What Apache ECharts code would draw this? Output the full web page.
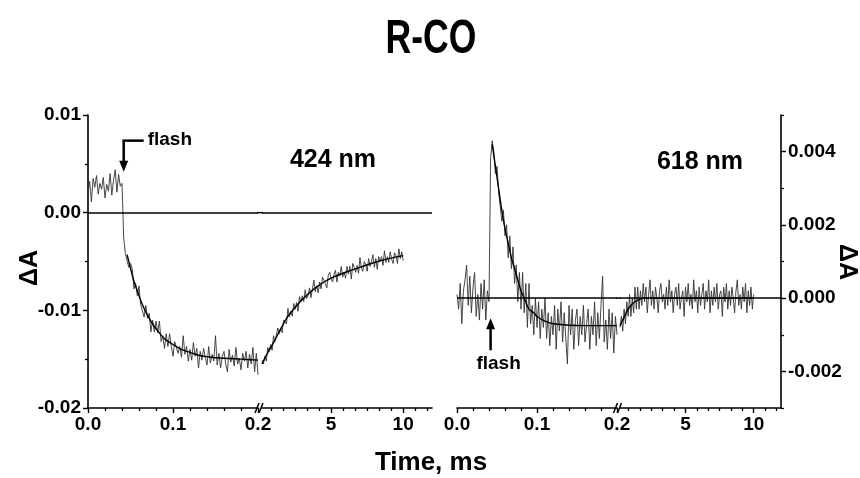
<!DOCTYPE html>
<html><head><meta charset="utf-8">
<script src="https://cdn.jsdelivr.net/npm/echarts@6/dist/echarts.min.js"></script>
<style>html,body{margin:0;padding:0;background:#fff}#c{width:860px;height:478px}</style>
</head><body><div id="c"></div>
<script>
const FONT = "'Liberation Sans', Arial, sans-serif";

// ---------- 424 nm panel ----------
const t424FastStart = 0, t424FastStep = 0.002;   // sampling grid, 0 .. 0.2 ms
const a424Fast = [
  0.0020, 0.0032, 0.0011, 0.0035, 0.0026, 0.0038, 0.0019, 0.0030, 0.0024, 0.0036,
  0.0015, 0.0029, 0.0022, 0.0040, 0.0018, 0.0033, 0.0044, 0.0021, 0.0039, 0.0027,
  0.0030,
  -0.0026, -0.0042, -0.0040, -0.0056, -0.0052,
  -0.0057, -0.0078, -0.0072, -0.0085, -0.0075, -0.0094, -0.0092, -0.0107, -0.0095, -0.0108,
  -0.0103, -0.0122, -0.0110, -0.0122, -0.0111, -0.0123, -0.0111, -0.0132, -0.0126, -0.0139,
  -0.0124, -0.0137, -0.0124, -0.0137, -0.0147, -0.0132, -0.0130, -0.0144, -0.0137, -0.0148,
  -0.0126, -0.0145, -0.0137, -0.0152, -0.0140, -0.0151, -0.0133, -0.0147, -0.0139, -0.0159,
  -0.0142, -0.0151, -0.0139, -0.0148, -0.0156, -0.0137, -0.0154, -0.0145, -0.0152, -0.0126,
  -0.0156, -0.0144, -0.0159, -0.0147, -0.0142, -0.0155, -0.0163, -0.0140, -0.0153, -0.0146,
  -0.0157, -0.0138, -0.0155, -0.0149, -0.0161, -0.0144, -0.0152, -0.0142, -0.0159, -0.0145,
  -0.0155, -0.0138, -0.0163, -0.0144, -0.0166
];
const t424SlowStart = 0.2, t424SlowStep = 0.1;    // sampling grid, 0.2 .. 10 ms
const a424Slow = [
  -0.0151, -0.0155, -0.0147, -0.0152, -0.0138, -0.0142, -0.0135, -0.0141, -0.0126, -0.0132,
  -0.0131, -0.0118, -0.0124, -0.0118, -0.0123, -0.0110, -0.0109, -0.0114, -0.0098, -0.0107,
  -0.0101, -0.0106, -0.0093, -0.0099, -0.0092, -0.0101, -0.0086, -0.0091, -0.0085, -0.0091,
  -0.0079, -0.0088, -0.0085, -0.0077, -0.0087, -0.0078, -0.0069, -0.0081, -0.0075, -0.0082,
  -0.0071, -0.0078, -0.0066, -0.0069, -0.0073, -0.0077, -0.0064, -0.0061, -0.0068, -0.0071,
  -0.0063, -0.0059, -0.0071, -0.0061, -0.0065, -0.0055, -0.0066, -0.0061, -0.0067, -0.0055,
  -0.0063, -0.0055, -0.0068, -0.0052, -0.0056, -0.0061, -0.0054, -0.0062, -0.0046, -0.0057,
  -0.0060, -0.0050, -0.0053, -0.0060, -0.0047, -0.0055, -0.0050, -0.0043, -0.0056, -0.0047,
  -0.0058, -0.0045, -0.0050, -0.0045, -0.0054, -0.0039, -0.0051, -0.0045, -0.0051, -0.0040,
  -0.0048, -0.0052, -0.0041, -0.0044, -0.0052, -0.0037, -0.0047, -0.0040, -0.0049
];
const fit424FastT = [0.046, 0.048, 0.050, 0.054, 0.058, 0.062, 0.066, 0.070, 0.076, 0.082, 0.090, 0.100, 0.110, 0.120, 0.130, 0.145, 0.160, 0.180, 0.200];
const fit424FastV = [-0.0043, -0.0050, -0.0057, -0.0070, -0.0080, -0.0090, -0.0098, -0.0105, -0.0114, -0.0121, -0.0129, -0.0135, -0.0140, -0.0143, -0.0146, -0.0148, -0.0149, -0.0150, -0.0151];
const fit424SlowT = [0.2, 0.5, 1, 1.5, 2, 2.5, 3, 3.5, 4, 4.5, 5, 6, 7, 8, 9, 10];
const fit424SlowV = [-0.0155, -0.0146, -0.0133, -0.0119, -0.0106, -0.0097, -0.0089, -0.0082, -0.0076, -0.0071, -0.0067, -0.0061, -0.0056, -0.0051, -0.0047, -0.0044];

// ---------- 618 nm panel ----------
const t618FastStart = 0, t618FastStep = 0.002;
const a618Fast = [
  0.0001, -0.0003, 0.0004, -0.0007, 0.0002, 0.0005, 0.0009, -0.0002, 0.0006, -0.0004,
  0.0003, 0.0007, -0.0005, 0.0001, -0.0006, 0.0004, -0.0003, 0.0005, -0.0006, 0.0002,
  -0.0001,
  0.0038, 0.0043,
  0.0040, 0.0034, 0.0036, 0.0029, 0.0029, 0.0021, 0.0024, 0.0017, 0.0020, 0.0011,
  0.0017, 0.0008, 0.0014, 0.0004, 0.0009, -0.0001, 0.0007, -0.0003, 0.0007, -0.0004,
  0.0004, -0.0008, 0.0004, -0.0007, -0.0002, -0.0010, 0.0000, -0.0008, -0.0001, -0.0011,
  -0.0003, -0.0008, 0.0000, -0.0011, -0.0004, -0.0013, -0.0005, -0.0010, -0.0002, -0.0014,
  -0.0003, -0.0009, -0.0001, -0.0012, -0.0004, -0.0011, -0.0018, -0.0002, -0.0010, -0.0003,
  -0.0014, -0.0006, -0.0003, -0.0013, -0.0005, -0.0010, -0.0002, -0.0012, -0.0007, -0.0003,
  -0.0014, -0.0005, -0.0010, -0.0001, -0.0013, -0.0004, -0.0011, -0.0002, 0.0006, -0.0012,
  -0.0006, -0.0014, -0.0003, -0.0011, -0.0004, -0.0015, -0.0005, -0.0010
];
const t618SlowStart = 0.2, t618SlowStep = 0.1;
const a618Slow = [
  -0.0008, -0.0005, -0.0009, -0.0003, -0.0007, -0.0001, -0.0005, 0.0001, -0.0005, 0.0000,
  -0.0004, 0.0003, -0.0003, 0.0003, -0.0003,
  0.0002, -0.0002, 0.0004, -0.0001, 0.0003, -0.0004, 0.0001, 0.0005, -0.0002, 0.0002,
  -0.0003, 0.0003, 0.0000, -0.0004, 0.0002, 0.0004, -0.0001, 0.0001, -0.0003, 0.0003,
  -0.0002, 0.0005, -0.0001, 0.0002, -0.0004, 0.0001, 0.0003, -0.0002, 0.0004, -0.0003,
  0.0000, 0.0002, -0.0005, 0.0003, -0.0001, 0.0004, -0.0002, 0.0001, -0.0003, 0.0005,
  -0.0001, 0.0002, -0.0004, 0.0003, -0.0002, 0.0001, 0.0004, -0.0003, 0.0002, -0.0001,
  0.0005, -0.0004, 0.0002, -0.0002, 0.0003, -0.0001, 0.0004, -0.0003, 0.0001, 0.0002,
  -0.0005, 0.0003, -0.0001, 0.0004, -0.0003, 0.0002, -0.0002, 0.0003, 0.0000, -0.0004,
  0.0002, 0.0005, -0.0002, 0.0001, -0.0003, 0.0003, -0.0001, 0.0004, -0.0004, 0.0002,
  -0.0002, 0.0003, -0.0003, 0.0001
];
const fit618FastT = [0.044, 0.048, 0.052, 0.056, 0.060, 0.064, 0.068, 0.072, 0.076, 0.080, 0.084, 0.090, 0.096, 0.100, 0.110, 0.120, 0.130, 0.140, 0.160, 0.200];
const fit618FastV = [0.0042, 0.0036, 0.0030, 0.0024, 0.0019, 0.0015, 0.0011, 0.0008, 0.0005, 0.0002, 0.0000, -0.0003, -0.0004, -0.0005, -0.00063, -0.0007, -0.00072, -0.00074, -0.00075, -0.00075];
const fit618SlowT = [0.2, 0.4, 0.6, 0.8, 1.0, 1.3, 1.6, 2.0, 4, 6, 8, 10];
const fit618SlowV = [-0.00075, -0.0006, -0.00045, -0.0003, -0.0002, -0.0001, -0.00004, 0, 0, 0, 0, 0];

// ---------- axes / ticks ----------
const fastRange = [0, 0.2];
const slowRange = [0.2, 12];
const slowMajorTicks = [5, 10];
const slowMinorTicks = [0.833, 1.667, 2.5, 3.333, 4.167, 5.833, 6.667, 7.5, 8.333, 9.167, 10.833, 11.667];
const y424Range = [-0.02, 0.01];
const y618Range = [-0.003, 0.005];
const y618Major = [-0.002, 0, 0.002, 0.004];
const y618Minor = [-0.003, -0.001, 0.001, 0.003, 0.005];
const flashTime = 0.042;

const toPairs = (start, step, arr) => arr.map((v, i) => [+(start + i * step).toFixed(4), v]);
const zip = (t, v) => t.map((x, i) => [x, v[i]]);

const lbl = {fontFamily: FONT, fontWeight: 'bold', fontSize: 19, color: '#000'};
const axLine = {show: true, onZero: false, lineStyle: {color: '#000', width: 1.6}};

function fastX(grid) {
  return {type: 'value', gridIndex: grid, min: fastRange[0], max: fastRange[1], interval: 0.1,
    position: 'bottom', axisLine: axLine,
    axisTick: {show: true, length: 5, lineStyle: {color: '#000', width: 1.4}},
    minorTick: {show: true, splitNumber: 5, length: 3, lineStyle: {color: '#000', width: 1.3}},
    axisLabel: Object.assign({margin: 7, showMaxLabel: true, showMinLabel: true, formatter: v => v.toFixed(1)}, lbl),
    splitLine: {show: false}, minorSplitLine: {show: false}};
}
function slowX(grid) {
  return {type: 'value', gridIndex: grid, min: slowRange[0], max: slowRange[1], position: 'bottom',
    axisLine: axLine,
    axisTick: {show: true, length: 5, customValues: slowMajorTicks, lineStyle: {color: '#000', width: 1.4}},
    axisLabel: Object.assign({margin: 7, customValues: slowMajorTicks, formatter: v => String(v)}, lbl),
    splitLine: {show: false}};
}
function slowMinorX(grid) {
  return {type: 'value', gridIndex: grid, min: slowRange[0], max: slowRange[1], position: 'bottom', offset: 0,
    axisLine: {show: false, onZero: false},
    axisTick: {show: true, length: 3, customValues: slowMinorTicks, lineStyle: {color: '#000', width: 1.3}},
    axisLabel: {show: false}, splitLine: {show: false}};
}

const zeroLine = {silent: true, symbol: 'none', label: {show: false},
  lineStyle: {color: '#000', width: 1.5, type: 'solid'}, data: [{yAxis: 0}], animation: false};
const traceStyle = {color: '#333', width: 0.9};
const fitStyle = {color: '#000', width: 1.4};

const option = {
  animation: false,
  backgroundColor: '#fff',
  grid: [
    {left: 88, top: 115, width: 170, height: 293},
    {left: 262, top: 115, width: 170, height: 293},
    {left: 457, top: 115, width: 160, height: 293},
    {left: 620, top: 115, width: 161, height: 293}
  ],
  xAxis: [fastX(0), slowX(1), slowMinorX(1), fastX(2), slowX(3), slowMinorX(3)],
  yAxis: [
    {type: 'value', gridIndex: 0, min: y424Range[0], max: y424Range[1], interval: 0.01, position: 'left',
      axisLine: axLine,
      axisTick: {show: true, length: 5, lineStyle: {color: '#000', width: 1.4}},
      minorTick: {show: true, splitNumber: 2, length: 3, lineStyle: {color: '#000', width: 1.3}},
      axisLabel: Object.assign({margin: 7, formatter: v => v.toFixed(2)}, lbl),
      splitLine: {show: false}, minorSplitLine: {show: false}},
    {type: 'value', gridIndex: 1, min: y424Range[0], max: y424Range[1], show: false},
    {type: 'value', gridIndex: 2, min: y618Range[0], max: y618Range[1], show: false},
    {type: 'value', gridIndex: 3, min: y618Range[0], max: y618Range[1], position: 'right',
      axisLine: axLine,
      axisTick: {show: true, length: 5, customValues: y618Major, lineStyle: {color: '#000', width: 1.4}},
      axisLabel: Object.assign({margin: 7, customValues: y618Major, formatter: v => v.toFixed(3)}, lbl),
      splitLine: {show: false}},
    {type: 'value', gridIndex: 3, min: y618Range[0], max: y618Range[1], position: 'right', offset: 0,
      axisLine: {show: false, onZero: false},
      axisTick: {show: true, length: 3, customValues: y618Minor, lineStyle: {color: '#000', width: 1.3}},
      axisLabel: {show: false}, splitLine: {show: false}}
  ],
  series: [
    {type: 'line', xAxisIndex: 0, yAxisIndex: 0, data: toPairs(t424FastStart, t424FastStep, a424Fast),
      showSymbol: false, lineStyle: traceStyle, markLine: zeroLine, z: 2},
    {type: 'line', xAxisIndex: 0, yAxisIndex: 0, data: zip(fit424FastT, fit424FastV),
      showSymbol: false, smooth: 0.4, lineStyle: fitStyle, z: 3},
    {type: 'line', xAxisIndex: 1, yAxisIndex: 1, data: toPairs(t424SlowStart, t424SlowStep, a424Slow),
      showSymbol: false, lineStyle: traceStyle, markLine: zeroLine, z: 2},
    {type: 'line', xAxisIndex: 1, yAxisIndex: 1, data: zip(fit424SlowT, fit424SlowV),
      showSymbol: false, smooth: 0.4, lineStyle: fitStyle, z: 3},
    {type: 'line', xAxisIndex: 3, yAxisIndex: 2, data: toPairs(t618FastStart, t618FastStep, a618Fast),
      showSymbol: false, lineStyle: traceStyle, markLine: zeroLine, z: 2},
    {type: 'line', xAxisIndex: 3, yAxisIndex: 2, data: zip(fit618FastT, fit618FastV),
      showSymbol: false, smooth: 0.4, lineStyle: fitStyle, z: 3},
    {type: 'line', xAxisIndex: 4, yAxisIndex: 3, data: toPairs(t618SlowStart, t618SlowStep, a618Slow),
      showSymbol: false, lineStyle: traceStyle, markLine: zeroLine, z: 2},
    {type: 'line', xAxisIndex: 4, yAxisIndex: 3, data: zip(fit618SlowT, fit618SlowV),
      showSymbol: false, smooth: 0.4, lineStyle: fitStyle, z: 3}
  ]
};

const chart = echarts.init(document.getElementById('c'), null, {renderer: 'canvas'});
chart.setOption(option);

function px(xi, yi, pt) { return chart.convertToPixel({xAxisIndex: xi, yAxisIndex: yi}, pt); }
const txt = (x, y, s, size, extra) => Object.assign({type: 'text', x: x, y: y, z: 10,
  style: {text: s, fontFamily: FONT, fontWeight: 'bold', fontSize: size, fill: '#000', align: 'center', verticalAlign: 'middle'}}, extra || {});
const seg = (x1, y1, x2, y2, w) => ({type: 'line', z: 10, shape: {x1, y1, x2, y2}, style: {stroke: '#000', lineWidth: w}});
const tri = (pts) => ({type: 'polygon', z: 10, shape: {points: pts}, style: {fill: '#000'}});

const g = [];
// axis break marks + zero line bridging the break
[[0, 0, 1, 1, y424Range[0]], [3, 2, 4, 3, y618Range[0]]].forEach(([xa, ya, xb, yb, ymin]) => {
  const p0 = px(xa, ya, [fastRange[1], ymin]);
  const p1 = px(xb, yb, [slowRange[0], ymin]);
  const xm = (p0[0] + p1[0]) / 2, y = p0[1];
  g.push(seg(xm - 5, y + 5, xm - 1, y - 5, 1.5));
  g.push(seg(xm - 1, y + 5, xm + 3, y - 5, 1.5));
  const z0 = px(xa, ya, [fastRange[1], 0]);
  g.push(seg(p0[0] - 1, z0[1], p1[0] + 1, z0[1], 1.5));
});
// flash arrow, 424 nm (elbow pointing down)
{
  const [tx, ty] = px(0, 0, [flashTime, 0.0042]);
  g.push(seg(tx, ty - 31, tx, ty - 9, 2.5));
  g.push(seg(tx - 1.2, ty - 31, tx + 20, ty - 31, 2.5));
  g.push(tri([[tx - 4.5, ty - 11], [tx + 4.5, ty - 11], [tx, ty]]));
  g.push(txt(tx + 24, ty - 32, 'flash', 19, {style: {text: 'flash', fontFamily: FONT, fontWeight: 'bold', fontSize: 19, fill: '#000', align: 'left', verticalAlign: 'middle'}}));
}
// flash arrow, 618 nm (pointing up)
{
  const [tx, ty] = px(3, 2, [flashTime, -0.00055]);
  g.push(seg(tx, ty + 9, tx, ty + 32, 2.5));
  g.push(tri([[tx - 4.5, ty + 11], [tx + 4.5, ty + 11], [tx, ty]]));
  g.push(txt(tx + 8, ty + 45, 'flash', 19));
}
// title (condensed bold face imitated by horizontal scaling)
g.push(Object.assign(txt(431, 40, 'R-CO', 48), {scaleX: 0.74, scaleY: 1}));
g.push(txt(333, 160, '424 nm', 25));
g.push(txt(700, 162, '618 nm', 25));
g.push(txt(431, 463, 'Time, ms', 26));
g.push(Object.assign(txt(0, 0, 'ΔA', 25), {x: 30, y: 268, rotation: Math.PI / 2}));
g.push(Object.assign(txt(0, 0, 'ΔA', 25), {x: 847, y: 262, rotation: -Math.PI / 2}));
chart.setOption({graphic: {elements: g}});
</script>
</body></html>
